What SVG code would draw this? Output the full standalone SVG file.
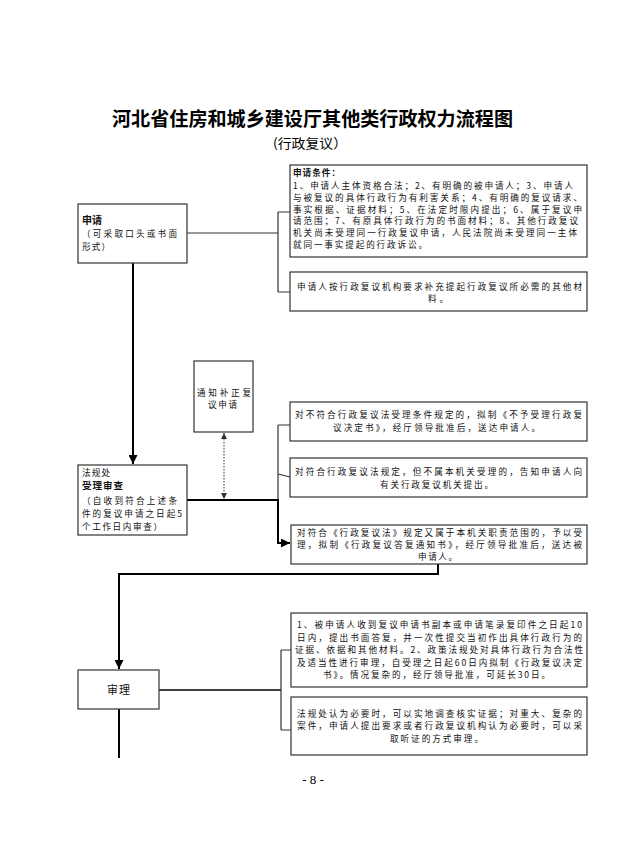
<svg xmlns="http://www.w3.org/2000/svg" width="623" height="854" viewBox="0 0 623 854">
<style>
.bg{fill:#ffffff}
.box{fill:#ffffff;stroke:#333333;stroke-width:1.2}
.t{font-family:"Noto Sans CJK SC","Noto Sans",sans-serif;font-size:8.6px;fill:#111111}
.b{font-weight:bold}
.title{font-family:"Noto Sans CJK SC",sans-serif;font-size:19px;font-weight:bold;fill:#000}
.sub{font-family:"Noto Sans CJK SC",sans-serif;font-size:13px;fill:#000}
.pg{font-family:"Liberation Serif",serif;font-size:13px;fill:#000}
.main{fill:none;stroke:#000;stroke-width:2}
.thin{fill:none;stroke:#333;stroke-width:1.2}
.dot{fill:none;stroke:#333;stroke-width:1;stroke-dasharray:1.5 1.5}
</style>
<defs>
<marker id="arr" viewBox="0 0 10 10" refX="10" refY="5" markerWidth="9" markerHeight="9" markerUnits="userSpaceOnUse" orient="auto">
<path d="M0,0 L10,5 L0,10 z" fill="#000"/>
</marker>
<marker id="sarr" viewBox="0 0 10 10" refX="10" refY="5" markerWidth="6" markerHeight="6" markerUnits="userSpaceOnUse" orient="auto-start-reverse">
<path d="M0,0 L10,5 L0,10 z" fill="#333"/>
</marker>
</defs>
<rect class="bg" x="0" y="0" width="623" height="854"/>
<text class="title" x="112" y="126" textLength="401" lengthAdjust="spacingAndGlyphs">河北省住房和城乡建设厅其他类行政权力流程图</text>
<text class="sub" x="273" y="148" textLength="74" lengthAdjust="spacingAndGlyphs">(行政复议）</text>

<g id="connectors">
<path class="main" d="M133,263 L133,464" marker-end="url(#arr)"/>
<path class="thin" d="M187,233 L278,233 M278,212 L278,292 M278,212 L290,212 M278,292 L290,292"/>
<path class="thin" d="M278,425 L278,500 M278,425 L290,425 M278,474 L290,477"/>
<path class="main" d="M187,500 L278,500 L278,543 L290,543" marker-end="url(#arr)"/>
<path class="dot" d="M224,433 L224,499" marker-start="url(#sarr)" marker-end="url(#sarr)"/>
<path class="main" d="M438,564 L438,574 L119,574 L119,669" marker-end="url(#arr)"/>
<path class="main" style="stroke-width:1.6" d="M159,690 L281,690"/>
<path class="thin" d="M281,650 L281,730 M281,650 L291,650 M281,730 L291,730"/>
<path class="main" d="M119,709 L119,758"/>
</g>

<g id="n-apply">
<rect class="box" x="78" y="204" width="109" height="59"/>
<text class="t b" x="82" y="223.5" style="font-size:10px" textLength="20" lengthAdjust="spacingAndGlyphs">申请</text>
<text class="t" x="82" y="236.5" textLength="95" lengthAdjust="spacing">（可采取口头或书面</text>
<text class="t" x="82" y="250" textLength="28" lengthAdjust="spacing">形式）</text>
</g>

<g id="n-conditions">
<rect class="box" x="290" y="165" width="297" height="92"/>
<text class="t b" x="293" y="175.5" textLength="47" lengthAdjust="spacing">申请条件：</text>
<text class="t" x="293" y="189" textLength="280" lengthAdjust="spacing">1、申请人主体资格合法；2、有明确的被申请人；3、申请人</text>
<text class="t" x="293" y="200.8" textLength="289" lengthAdjust="spacing">与被复议的具体行政行为有利害关系；4、有明确的复议请求、</text>
<text class="t" x="293" y="212.6" textLength="289" lengthAdjust="spacing">事实根据、证据材料；5、在法定时限内提出；6、属于复议申</text>
<text class="t" x="293" y="224.4" textLength="285" lengthAdjust="spacing">请范围；7、有原具体行政行为的书面材料；8、其他行政复议</text>
<text class="t" x="293" y="236.2" textLength="284" lengthAdjust="spacing">机关尚未受理同一行政复议申请，人民法院尚未受理同一主体</text>
<text class="t" x="293" y="248" textLength="134" lengthAdjust="spacing">就同一事实提起的行政诉讼。</text>
</g>

<g id="n-supplement">
<rect class="box" x="290" y="272" width="297" height="39"/>
<text class="t" x="297" y="289.5" textLength="285" lengthAdjust="spacing">申请人按行政复议机构要求补充提起行政复议所必需的其他材</text>
<text class="t" x="428" y="302" textLength="20" lengthAdjust="spacing">料。</text>
</g>

<g id="n-notify">
<rect class="box" x="194" y="361" width="59" height="71"/>
<text class="t" x="197" y="395.5" textLength="54" lengthAdjust="spacing">通知补正复</text>
<text class="t" x="208" y="408" textLength="29" lengthAdjust="spacing">议申请</text>
</g>

<g id="n-reject">
<rect class="box" x="290" y="402" width="297" height="39"/>
<text class="t" x="295" y="418" textLength="287" lengthAdjust="spacing">对不符合行政复议法受理条件规定的，拟制《不予受理行政复</text>
<text class="t" x="333" y="431" textLength="207" lengthAdjust="spacing">议决定书》，经厅领导批准后，送达申请人。</text>
</g>

<g id="n-redirect">
<rect class="box" x="290" y="458" width="297" height="39"/>
<text class="t" x="295" y="475" textLength="287" lengthAdjust="spacing">对符合行政复议法规定，但不属本机关受理的，告知申请人向</text>
<text class="t" x="380" y="487.5" textLength="113" lengthAdjust="spacing">有关行政复议机关提出。</text>
</g>

<g id="n-review-accept">
<rect class="box" x="78" y="465" width="109" height="70"/>
<text class="t" x="82" y="476" textLength="28" lengthAdjust="spacing">法规处</text>
<text class="t b" x="82" y="489" style="font-size:9.5px" textLength="41" lengthAdjust="spacing">受理审查</text>
<text class="t" x="82" y="503.5" textLength="95" lengthAdjust="spacing">（自收到符合上述条</text>
<text class="t" x="82" y="516.5" textLength="100" lengthAdjust="spacing">件的复议申请之日起5</text>
<text class="t" x="82" y="530" textLength="80" lengthAdjust="spacing">个工作日内审查）</text>
</g>

<g id="n-accept">
<rect class="box" x="291" y="525" width="296" height="39"/>
<text class="t" x="297" y="535.5" textLength="285" lengthAdjust="spacing">对符合《行政复议法》规定又属于本机关职责范围的，予以受</text>
<text class="t" x="297" y="547.7" textLength="285" lengthAdjust="spacing">理，拟制《行政复议答复通知书》，经厅领导批准后，送达被</text>
<text class="t" x="418" y="560" textLength="39" lengthAdjust="spacing">申请人。</text>
</g>

<g id="n-hearing">
<rect class="box" x="78" y="670" width="81" height="39"/>
<text class="t" x="107" y="694" style="font-size:11px" textLength="23" lengthAdjust="spacing">审理</text>
</g>

<g id="n-reply">
<rect class="box" x="291" y="613" width="296" height="74"/>
<text class="t" x="297" y="628" textLength="285" lengthAdjust="spacing">1、被申请人收到复议申请书副本或申请笔录复印件之日起10</text>
<text class="t" x="297" y="640.5" textLength="285" lengthAdjust="spacing">日内，提出书面答复，并一次性提交当初作出具体行政行为的</text>
<text class="t" x="295" y="653" textLength="288" lengthAdjust="spacing">证据、依据和其他材料。2、政策法规处对具体行政行为合法性</text>
<text class="t" x="297" y="665.5" textLength="285" lengthAdjust="spacing">及适当性进行审理，自受理之日起60日内拟制《行政复议决定</text>
<text class="t" x="323" y="678" textLength="227" lengthAdjust="spacing">书》。情况复杂的，经厅领导批准，可延长30日。</text>
</g>

<g id="n-investigate">
<rect class="box" x="291" y="697" width="296" height="58"/>
<text class="t" x="297" y="716.5" textLength="285" lengthAdjust="spacing">法规处认为必要时，可以实地调查核实证据；对重大、复杂的</text>
<text class="t" x="297" y="729" textLength="285" lengthAdjust="spacing">案件，申请人提出要求或者行政复议机构认为必要时，可以采</text>
<text class="t" x="390" y="741.5" textLength="93" lengthAdjust="spacing">取听证的方式审理。</text>
</g>

<text class="pg" x="313" y="784" text-anchor="middle">- 8 -</text>
</svg>
